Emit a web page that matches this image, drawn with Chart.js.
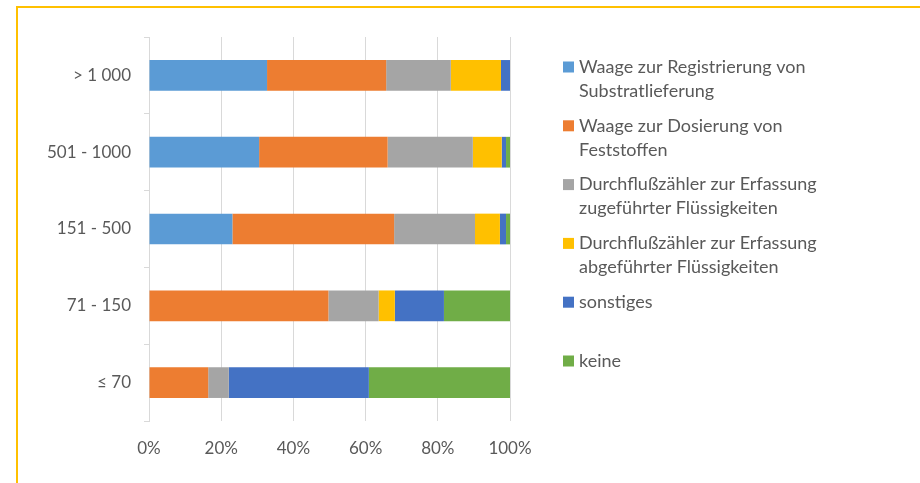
<!DOCTYPE html>
<html>
<head>
<meta charset="utf-8">
<script src="https://cdn.jsdelivr.net/npm/chart.js@4.4.1/dist/chart.umd.min.js"></script>
<style>
  html, body { margin: 0; padding: 0; background: #fff; }
  #wrap { position: relative; width: 920px; height: 483px; overflow: hidden; }
  #frame { position: absolute; left: 16px; top: 6px; width: 1000px; height: 1000px;
           border-top: 2px solid #FFC000; border-left: 2px solid #FFC000; box-sizing: border-box; }
  canvas { position: absolute; left: 0; top: 0; }
</style>
</head>
<body>
<div id="wrap">
  <div id="frame"></div>
  <canvas id="c" width="920" height="483"></canvas>
</div>
<script>
const categories = ['> 1 000', '501 - 1000', '151 - 500', '71 - 150', '\u2264 70'];
const seriesNames = [
  ['Waage zur Registrierung von', 'Substratlieferung'],
  ['Waage zur Dosierung von', 'Feststoffen'],
  ['Durchflu\u00dfz\u00e4hler zur Erfassung', 'zugef\u00fchrter Fl\u00fcssigkeiten'],
  ['Durchflu\u00dfz\u00e4hler zur Erfassung', 'abgef\u00fchrter Fl\u00fcssigkeiten'],
  ['sonstiges'],
  ['keine']
];
const waageRegistrierung = [32.7, 30.5, 23.1, 0, 0];
const waageDosierung     = [33.0, 35.6, 44.8, 49.7, 16.4];
const durchflussZu       = [17.9, 23.6, 22.4, 13.9, 5.7];
const durchflussAb       = [13.9, 8.0, 6.9, 4.5, 0];
const sonstiges          = [2.5, 1.2, 1.7, 13.6, 38.8];
const keine              = [0, 1.1, 1.1, 18.3, 39.1];
const xTicks = ['0%', '20%', '40%', '60%', '80%', '100%'];

const seriesValues = [waageRegistrierung, waageDosierung, durchflussZu, durchflussAb, sonstiges, keine];
const colors = ['#5B9BD5', '#ED7D31', '#A5A5A5', '#FFC000', '#4472C4', '#70AD47'];
const FONT = 'Lato, "Open Sans", sans-serif';
const TEXT = '#595959';

const legendPlugin = {
  id: 'customLegend',
  afterDraw(chart) {
    const ctx = chart.ctx;
    ctx.save();
    ctx.font = '18px ' + FONT;
    ctx.textBaseline = 'middle';
    ctx.textAlign = 'left';
    chart.data.datasets.forEach((ds, i) => {
      const y0 = 67 + i * 58.8;
      ctx.fillStyle = ds.backgroundColor;
      ctx.fillRect(563, y0 - 5.5, 11, 11);
      ctx.fillStyle = TEXT;
      ds.legendLines.forEach((line, j) => {
        ctx.fillText(line, 579, y0 + j * 24);
      });
    });
    ctx.restore();
  }
};

new Chart(document.getElementById('c'), {
  type: 'bar',
  data: {
    labels: categories,
    datasets: seriesValues.map((vals, i) => ({
      label: seriesNames[i].join(' '),
      legendLines: seriesNames[i],
      data: vals,
      backgroundColor: colors[i],
      borderWidth: 0,
      barPercentage: 0.4,
      categoryPercentage: 1.0
    }))
  },
  options: {
    indexAxis: 'y',
    responsive: false,
    animation: false,
    layout: { padding: { left: 0, top: 37, right: 410, bottom: 0 } },
    plugins: { legend: { display: false }, tooltip: { enabled: false } },
    scales: {
      x: {
        stacked: true,
        min: 0, max: 100,
        afterFit(s) { s.height = 62; },
        border: { display: false },
        grid: { color: '#D9D9D9', lineWidth: 1, drawTicks: false },
        ticks: {
          stepSize: 20,
          padding: 17,
          color: TEXT,
          font: { family: FONT, size: 17 },
          callback: (v, idx) => xTicks[idx]
        }
      },
      y: {
        stacked: true,
        afterFit(s) { s.width = 149; },
        border: { display: true, color: '#D9D9D9', width: 1 },
        grid: { offset: true, drawOnChartArea: false, drawTicks: true, tickLength: 5, color: '#D9D9D9' },
        ticks: { padding: 13, color: TEXT, font: { family: FONT, size: 17 } }
      }
    }
  },
  plugins: [legendPlugin]
});
</script>
</body>
</html>
